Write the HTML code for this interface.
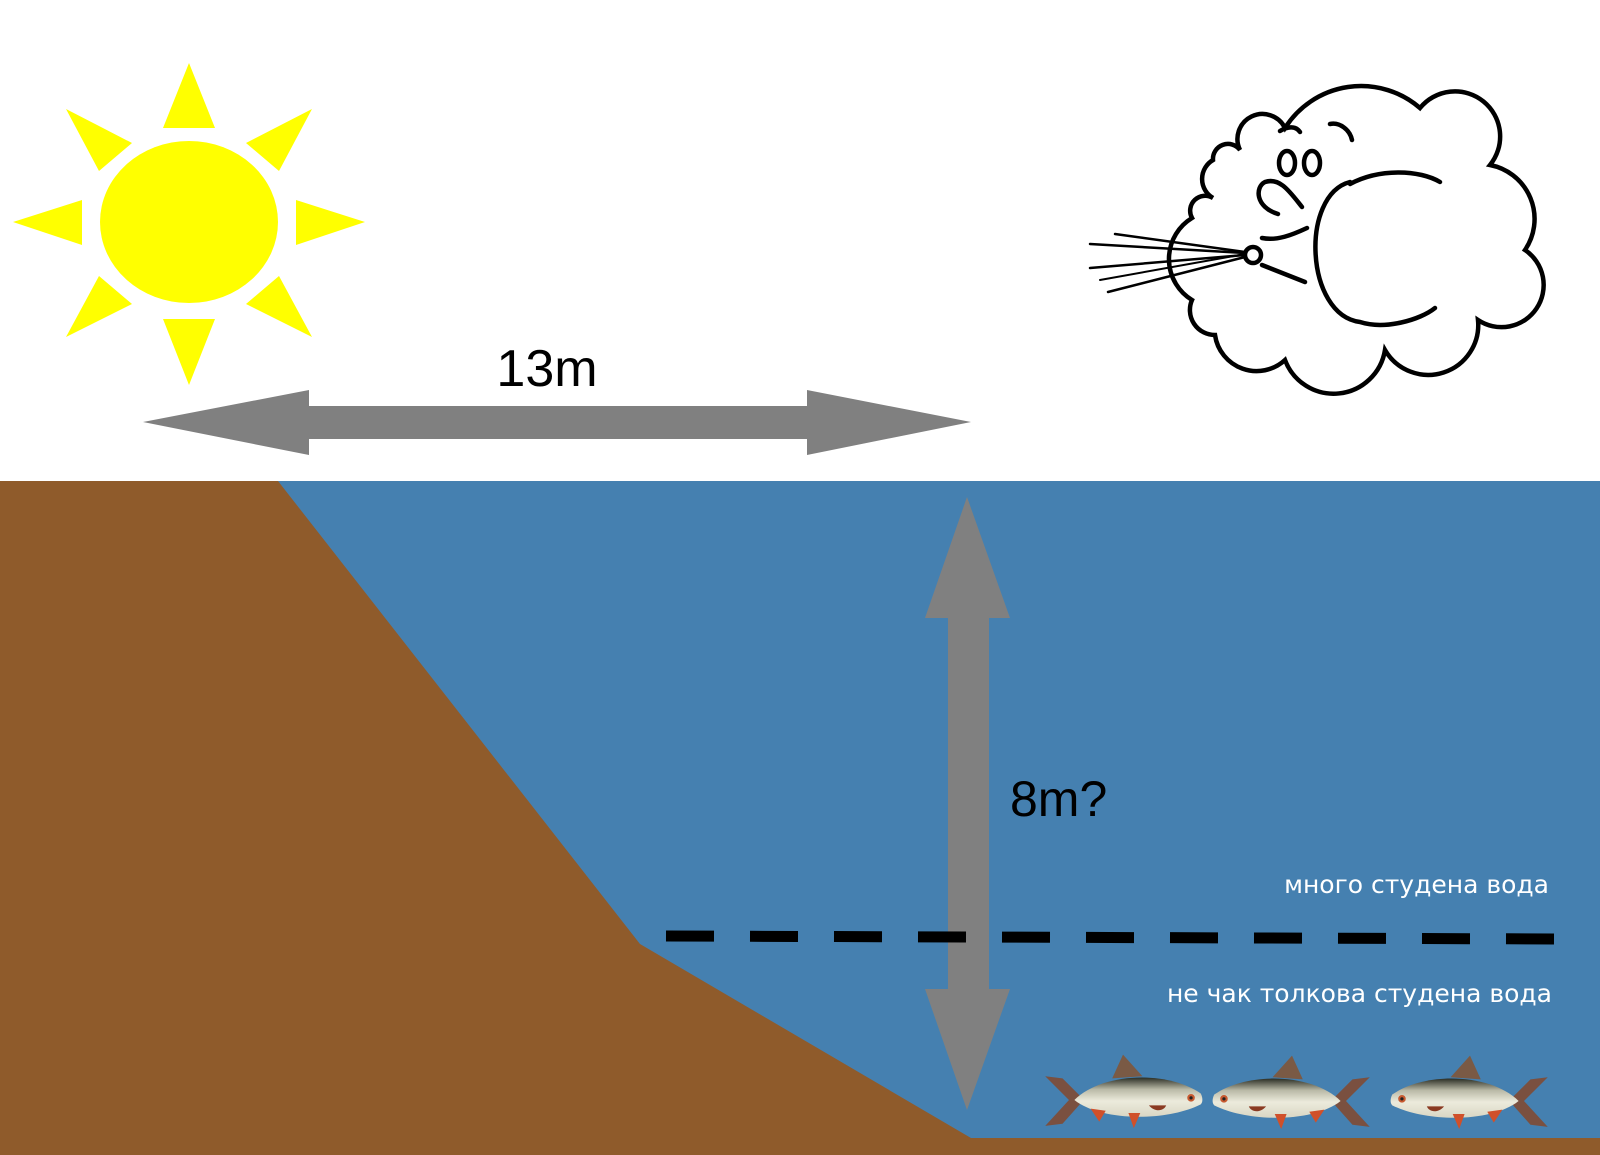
<!DOCTYPE html>
<html><head><meta charset="utf-8"><style>
html,body{margin:0;padding:0;background:#fff}
svg{display:block}
</style></head><body>
<svg width="1600" height="1155" viewBox="0 0 1600 1155" xmlns="http://www.w3.org/2000/svg">
<defs>
<linearGradient id="fb" x1="0" y1="0" x2="0" y2="1">
<stop offset="0" stop-color="#2b2e25"/><stop offset="0.3" stop-color="#b9b9a6"/><stop offset="0.6" stop-color="#ecebdc"/><stop offset="1" stop-color="#d9d6c4"/>
</linearGradient>
<g id="fish">
<path d="M-72,-22 L-50,0 L-72,24 L-56,22 L-40,4 L-40,-4 L-56,-20Z" fill="#7a5040"/>
<path d="M-10,-20 L0,-42 L18,-22Z" fill="#7a5a45"/>
<path d="M-45,0 C-20,-25 40,-28 72,-6 C74,-2 74,2 72,4 C40,20 -20,20 -45,0Z" fill="url(#fb)"/>
<path d="M-30,8 L-22,20 L-16,10Z" fill="#d0502a"/>
<path d="M5,12 L10,26 L16,12Z" fill="#d0502a"/>
<path d="M24,5 C30,12 38,10 40,5Z" fill="#8a3a22"/>
<circle cx="63" cy="-2" r="3.5" fill="#c85a30"/><circle cx="63" cy="-2" r="1.5" fill="#222"/>
</g>
</defs>
<rect x="0" y="481" width="1600" height="674" fill="#4580b0"/>
<polygon points="0,481 278,481 640,944 971,1138 1600,1138 1600,1155 0,1155" fill="#8f5b2b"/>
<g fill="#ffff00">
<ellipse cx="189" cy="222" rx="89" ry="81"/>
<polygon points="163,128 189,63 215,128"/>
<polygon points="163,319 189,385 215,319"/>
<polygon points="82,200 13,222 82,245"/>
<polygon points="296,200 365,222 296,245"/>
<polygon points="246,143 312,109 279,171"/>
<polygon points="132,143 66,109 99,171"/>
<polygon points="246,304 312,337 279,276"/>
<polygon points="132,304 66,337 99,276"/>
</g>
<polygon points="143,422 309,390 309,406 807,406 807,390 971,422 807,455 807,439 309,439 309,455" fill="#808080"/>
<text x="547" y="386" font-family="Liberation Sans, sans-serif" font-size="52" text-anchor="middle" fill="#000">13m</text>
<polygon points="967,497 1010,618 989,618 989,989 1010,989 967,1110 925,989 948,989 948,618 925,618" fill="#808080"/>
<text x="1010" y="816" font-family="Liberation Sans, sans-serif" font-size="50" fill="#000">8m?</text>
<line x1="666" y1="936" x2="1563" y2="939" stroke="#000" stroke-width="11" stroke-dasharray="48,36"/>
<text x="1549" y="893" font-family="DejaVu Sans, sans-serif" font-size="25" text-anchor="end" fill="#fff">много студена вода</text>
<text x="1552" y="1002" font-family="DejaVu Sans, sans-serif" font-size="25" text-anchor="end" fill="#fff">не чак толкова студена вода</text>
<use href="#fish" transform="translate(1123,1100) scale(1.08)"/>
<use href="#fish" transform="translate(1292,1101) scale(-1.08,1.08)"/>
<use href="#fish" transform="translate(1470,1101) scale(-1.08,1.08)"/>
<g fill="none" stroke="#000" stroke-width="4.5" stroke-linecap="round">
<path d="M1240,150 A25,25 0 0 1 1285,128 A90,90 0 0 1 1420,108 A42,42 0 0 1 1490,165 A55,55 0 0 1 1525,250 A42,42 0 0 1 1478,320 A50,50 0 0 1 1385,350 A52,52 0 0 1 1285,360 A42,42 0 0 1 1215,335 A25,25 0 0 1 1192,300 A48,48 0 0 1 1192,218 A15,15 0 0 1 1213,198 A22,22 0 0 1 1213,160 A15,15 0 0 1 1240,150Z" fill="#fff"/>
<path d="M1350,182 C1300,195 1305,315 1360,322 C1385,330 1420,320 1435,308"/>
<path d="M1350,184 C1380,168 1420,170 1440,182"/>
<path d="M1278,214 C1255,207 1255,187 1265,182 C1280,177 1290,192 1302,207"/>
<path d="M1262,238 C1277,241 1292,235 1307,228"/>
<circle cx="1253" cy="255" r="8"/>
<path d="M1262,265 L1305,282"/>
<ellipse cx="1287" cy="163" rx="8" ry="12"/>
<ellipse cx="1312" cy="163" rx="8" ry="12"/>
<path d="M1280,131 C1288,126 1296,126 1300,132"/>
<path d="M1330,124 C1340,122 1350,130 1352,140"/>
<path d="M1245,255 L1090,268" stroke-width="2.5"/>
<path d="M1245,252 L1115,234" stroke-width="2.5"/>
<path d="M1245,253 L1090,244" stroke-width="2.5"/>
<path d="M1245,257 L1108,292" stroke-width="2.5"/>
<path d="M1245,254 L1100,280" stroke-width="2"/>
</g>
</svg>
</body></html>
